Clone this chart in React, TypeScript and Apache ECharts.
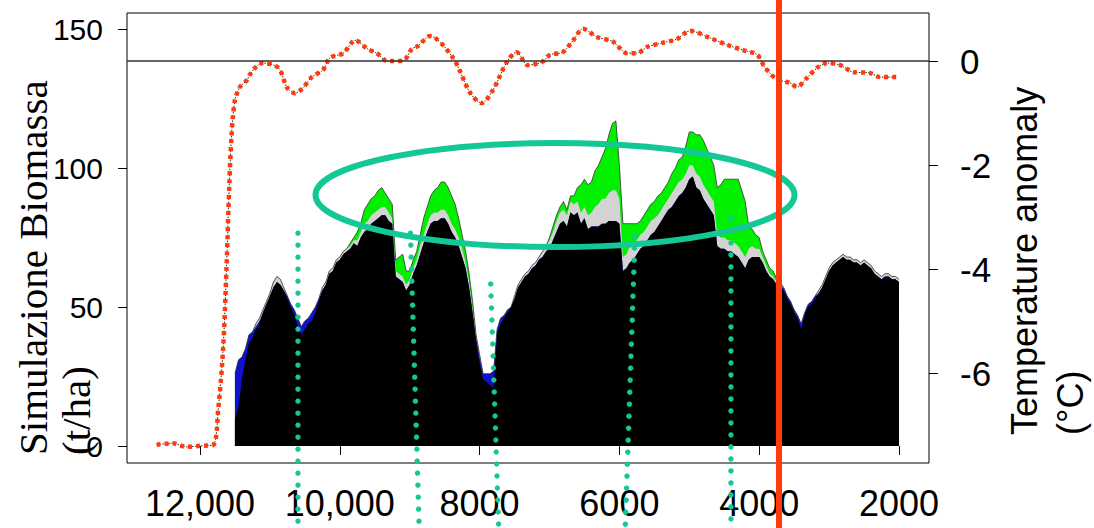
import React, { useEffect, useRef } from "react";
import * as echarts from "echarts";

// ---- Biomass (t/ha), stacked layers, years BP (50-year steps) ----
const years = [
  11500, 11450, 11400, 11350, 11300, 11250, 11200, 11150, 11100, 11050,
  11000, 10950, 10900, 10850, 10800, 10750, 10700, 10650, 10600, 10550,
  10500, 10450, 10400, 10350, 10300, 10250, 10200, 10150, 10100, 10050,
  10000, 9950, 9900, 9850, 9800, 9750, 9700, 9650, 9600, 9550,
  9500, 9450, 9400, 9350, 9300, 9250, 9200, 9150, 9100, 9050,
  9000, 8950, 8900, 8850, 8800, 8750, 8700, 8650, 8600, 8550,
  8500, 8450, 8400, 8350, 8300, 8250, 8200, 8150, 8100, 8050,
  8000, 7950, 7900, 7850, 7800, 7750, 7700, 7650, 7600, 7550,
  7500, 7450, 7400, 7350, 7300, 7250, 7200, 7150, 7100, 7050,
  7000, 6950, 6900, 6850, 6800, 6750, 6700, 6650, 6600, 6550,
  6500, 6450, 6400, 6350, 6300, 6250, 6200, 6150, 6100, 6050,
  6000, 5950, 5900, 5850, 5800, 5750, 5700, 5650, 5600, 5550,
  5500, 5450, 5400, 5350, 5300, 5250, 5200, 5150, 5100, 5050,
  5000, 4950, 4900, 4850, 4800, 4750, 4700, 4650, 4600, 4550,
  4500, 4450, 4400, 4350, 4300, 4250, 4200, 4150, 4100, 4050,
  4000, 3950, 3900, 3850, 3800, 3750, 3700, 3650, 3600, 3550,
  3500, 3450, 3400, 3350, 3300, 3250, 3200, 3150, 3100, 3050,
  3000, 2950, 2900, 2850, 2800, 2750, 2700, 2650, 2600, 2550,
  2500, 2450, 2400, 2350, 2300, 2250, 2200, 2150, 2100, 2050,
  2000,
];
const blackLayer = [
  10, 14, 24, 31, 37, 39, 42, 44, 48, 51,
  54, 57, 59, 58, 56, 53, 50, 47, 43, 40,
  42, 44, 45, 48, 52, 56, 58, 62, 63, 66,
  67, 69, 70, 71, 73, 72, 75, 77, 78, 80,
  81, 82, 83, 83, 81, 80, 61, 60, 59, 56,
  58, 62, 65, 69, 73, 77, 80, 81, 81, 82,
  82, 80, 77, 75, 72, 68, 64, 57, 48, 38,
  30, 24, 23, 22, 21, 40, 44, 46, 48, 50,
  53, 57, 59, 61, 62, 64, 65, 67, 68, 70,
  71, 74, 77, 80, 81, 79, 84, 83, 84, 80,
  82, 78, 79, 79, 79, 80, 80, 81, 81, 81,
  80, 63, 64, 66, 67, 69, 71, 72, 74, 76,
  77, 79, 81, 83, 85, 86, 88, 90, 91, 93,
  96, 97, 93, 92, 89, 87, 85, 83, 72, 71,
  71, 70, 70, 69, 68, 66, 64, 67, 68, 68,
  68, 66, 63, 61, 60, 58, 57, 56, 53, 51,
  48, 46, 42, 47, 50, 51, 53, 55, 57, 60,
  63, 65, 66, 67, 68, 67, 67, 66, 66, 65,
  66, 65, 64, 62, 61, 60, 61, 61, 60, 60,
  59,
];
const blueLayer = [
  16, 17, 8, 4, 3, 2, 1, 1, 0, 0,
  0, 0, 0, 0, 0, 1, 1, 2, 3, 3,
  3, 2, 3, 2, 1, 0, 0, 0, 0, 0,
  0, 0, 0, 0, 0, 0, 0, 0, 0, 0,
  0, 0, 0, 0, 0, 0, 0, 0, 0, 0,
  0, 0, 0, 0, 0, 0, 0, 0, 0, 0,
  0, 0, 0, 0, 0, 0, 0, 0, 0, 1,
  2, 2, 3, 4, 6, 2, 2, 1, 1, 0,
  0, 0, 0, 0, 0, 0, 0, 0, 0, 0,
  0, 0, 0, 0, 0, 0, 0, 0, 0, 0,
  0, 0, 0, 0, 0, 0, 0, 0, 0, 0,
  0, 0, 0, 0, 0, 0, 0, 0, 0, 0,
  0, 0, 0, 0, 0, 0, 0, 0, 0, 0,
  0, 0, 0, 0, 0, 0, 0, 0, 0, 0,
  0, 0, 0, 0, 0, 0, 0, 0, 0, 0,
  0, 0, 0, 0, 0, 0, 0, 1, 1, 1,
  1, 1, 2, 1, 1, 1, 1, 0, 0, 0,
  0, 0, 0, 0, 0, 0, 0, 0, 0, 0,
  0, 0, 0, 0, 0, 0, 0, 0, 0, 0,
  0,
];
const greyLayer = [
  0, 0, 0, 0, 0, 0, 1, 1, 1, 1,
  1, 2, 2, 2, 1, 0, 0, 0, 0, 0,
  0, 0, 0, 0, 0, 1, 1, 1, 1, 1,
  1, 1, 1, 1, 1, 2, 2, 3, 3, 3,
  3, 3, 3, 3, 3, 2, 2, 2, 2, 2,
  2, 2, 2, 3, 3, 3, 3, 3, 3, 3,
  3, 3, 3, 3, 3, 3, 2, 2, 1, 1,
  1, 0, 0, 0, 0, 0, 0, 0, 0, 0,
  1, 1, 1, 1, 1, 1, 1, 1, 2, 2,
  3, 3, 4, 4, 4, 4, 4, 4, 4, 4,
  4, 5, 5, 7, 8, 9, 9, 10, 11, 11,
  9, 5, 5, 6, 6, 5, 5, 5, 5, 5,
  5, 4, 4, 4, 4, 5, 5, 5, 5, 5,
  5, 4, 5, 5, 5, 5, 5, 5, 4, 4,
  4, 4, 4, 4, 4, 4, 4, 4, 4, 3,
  3, 2, 2, 1, 1, 1, 1, 0, 0, 0,
  0, 0, 0, 0, 0, 0, 0, 1, 1, 1,
  1, 1, 1, 1, 1, 1, 1, 1, 1, 1,
  1, 1, 1, 1, 1, 1, 1, 1, 1, 1,
  1,
];
const greenLayer = [
  0, 0, 0, 0, 0, 0, 0, 0, 0, 0,
  0, 0, 0, 0, 0, 0, 0, 0, 0, 0,
  0, 0, 0, 0, 0, 0, 0, 0, 0, 0,
  0, 0, 0, 1, 1, 3, 3, 5, 6, 6,
  6, 7, 7, 5, 5, 5, 4, 6, 8, 5,
  3, 3, 3, 4, 6, 6, 7, 8, 9, 10,
  10, 10, 10, 9, 7, 5, 4, 3, 3, 0,
  0, 0, 0, 0, 0, 0, 0, 0, 0, 0,
  0, 0, 0, 0, 0, 0, 0, 0, 0, 0,
  1, 2, 2, 2, 3, 2, 2, 3, 5, 10,
  10, 11, 11, 13, 14, 15, 18, 21, 24, 25,
  12, 12, 11, 8, 7, 6, 5, 6, 6, 6,
  6, 7, 6, 6, 6, 7, 7, 8, 8, 10,
  12, 12, 14, 15, 16, 15, 14, 13, 17, 19,
  21, 22, 22, 23, 24, 22, 20, 8, 6, 5,
  4, 2, 2, 2, 2, 1, 1, 0, 0, 0,
  0, 0, 0, 0, 0, 0, 0, 0, 0, 0,
  0, 0, 0, 0, 0, 0, 0, 0, 0, 0,
  0, 0, 0, 0, 0, 0, 0, 0, 0, 0,
  0,
];

// ---- Temperature anomaly (°C) ----
const tempYears = [
  12620, 12390, 12190, 12000, 11810, 11740, 11670, 11620, 11580, 11550,
  11530, 11500, 11470, 11430, 11330, 11290, 11190, 11100, 10880, 10750,
  10640, 10530, 10400, 10240, 10140, 9950, 9780, 9600, 9470, 9320,
  9100, 8970, 8880, 8710, 8380, 8140, 7970, 7810, 7610, 7470,
  7310, 7110, 6990, 6810, 6660, 6520, 6320, 6090, 5890, 5750,
  5600, 5380, 5180, 4990, 4700, 4460, 4230, 4030, 3920, 3750,
  3560, 3460, 3320, 3170, 3030, 2840, 2660, 2420, 2270, 2030,
];
const tempValues = [
  -7.38, -7.35, -7.42, -7.4, -7.38, -6.71, -5.56, -3.96, -2.35, -1.46,
  -1.08, -0.75, -0.62, -0.5, -0.37, -0.27, -0.1, -0.04, -0.13, -0.52,
  -0.62, -0.52, -0.31, -0.17, 0.06, 0.15, 0.4, 0.23, 0.15, 0.0,
  0.0, 0.23, 0.29, 0.48, 0.06, -0.6, -0.81, -0.56, -0.02, 0.17,
  -0.08, -0.02, 0.12, 0.17, 0.4, 0.62, 0.46, 0.37, 0.15, 0.15,
  0.27, 0.35, 0.42, 0.58, 0.44, 0.31, 0.21, 0.12, -0.12, -0.35,
  -0.42, -0.5, -0.33, -0.13, -0.04, -0.08, -0.21, -0.23, -0.31, -0.31,
];

// ---- Axes ----
const xTicks = [12000, 10000, 8000, 6000, 4000, 2000];
const xTickLabels = ["12,000", "10,000", "8000", "6000", "4000", "2000"];
const leftTicks = [0, 50, 100, 150];
const rightTicks = [0, -2, -4, -6];

// ---- Annotations (data coordinates) ----
const redLineYear = 3717;
const dottedTopYears = [10598, 8989, 7841, 5777, 4404];
const dottedTopBiomass = [76.6, 76.6, 58.3, 75.5, 81.7];
const dottedBottomYears = [10598, 8899, 7765, 5877, 4404];
const ellipseCenter = [6921, 90.3];
const ellipseHalfWidthYears = 3426;
const ellipseHalfHeightBiomass = 18.7;

const TEAL = "#14c896";
const RED = "#ff3a0c";

export default function App() {
  const ref = useRef<HTMLDivElement>(null);
  useEffect(() => {
    const chart = echarts.init(ref.current!, null, { renderer: "svg" });
    // cumulative tops of the stacked layers (drawn back-to-front)
    const cumBlue = blackLayer.map((v, i) => v + blueLayer[i]);
    const cumGrey = cumBlue.map((v, i) => v + greyLayer[i]);
    const cumGreen = cumGrey.map((v, i) => v + greenLayer[i]);
    const pair = (arr: number[]) => arr.map((v, i) => [years[i], v]);
    const areaSeries = (name: string, arr: number[], color: string, z: number, top = false) => ({
      name,
      type: "line",
      data: pair(arr),
      showSymbol: false,
      symbol: "none",
      z,
      lineStyle: top ? { width: 0.8, color: "#333" } : { width: 0, color },
      areaStyle: { color, opacity: 1 },
      silent: true,
    });
    const option: any = {
      animation: false,
      backgroundColor: "#ffffff",
      textStyle: { fontFamily: "Liberation Sans, Arial, sans-serif" },
      grid: {
        left: 127,
        right: 165,
        top: 13,
        bottom: 65,
        show: true,
        borderColor: "#000",
        borderWidth: 1,
        backgroundColor: "transparent",
      },
      xAxis: {
        type: "value",
        inverse: true,
        min: 1571,
        max: 13044,
        axisLine: { show: false },
        splitLine: { show: false },
        axisTick: { show: true, length: 9, inside: false, customValues: xTicks, lineStyle: { color: "#000" } },
        axisLabel: {
          customValues: xTicks,
          margin: 22,
          fontSize: 36,
          color: "#000",
          fontFamily: "Liberation Sans",
          formatter: (v: number) => {
            const i = xTicks.indexOf(v);
            return i >= 0 ? xTickLabels[i] : "";
          },
        },
      },
      yAxis: [
        {
          type: "value",
          position: "left",
          min: -6.1,
          max: 155.8,
          axisLine: { show: false },
          splitLine: { show: false },
          axisTick: { show: true, length: 9, customValues: leftTicks, lineStyle: { color: "#000" } },
          axisLabel: {
            customValues: leftTicks,
            margin: 24,
            fontSize: 30,
            color: "#000",
            fontFamily: "Liberation Sans",
            padding: [9, 0, 0, 0],
          },
        },
        {
          type: "value",
          position: "right",
          min: -7.73,
          max: 0.923,
          axisLine: { show: false },
          splitLine: { show: false },
          axisTick: { show: true, length: 9, customValues: rightTicks, lineStyle: { color: "#000" } },
          axisLabel: {
            customValues: rightTicks,
            margin: 31,
            fontSize: 35,
            color: "#000",
            fontFamily: "Liberation Sans",
            padding: [12, 0, 0, 0],
          },
        },
      ],
      series: [
        areaSeries("green", cumGreen, "#00f000", 2, true),
        areaSeries("grey", cumGrey, "#d3d3d3", 2),
        areaSeries("blue", cumBlue, "#1010d0", 2),
        areaSeries("black", blackLayer, "#000000", 2),
        {
          name: "temp-under",
          type: "line",
          yAxisIndex: 1,
          data: tempYears.map((y, i) => [y, tempValues[i]]),
          showSymbol: false,
          symbol: "none",
          smooth: 0.3,
          z: 3,
          lineStyle: { color: "#222", width: 1, type: [1.5, 1.5] },
          markLine: {
            silent: true,
            symbol: "none",
            label: { show: false },
            lineStyle: { color: "#333", width: 1.5, type: "solid" },
            data: [{ yAxis: 0 }],
          },
        },
        {
          name: "temp",
          type: "line",
          yAxisIndex: 1,
          data: tempYears.map((y, i) => [y, tempValues[i]]),
          showSymbol: false,
          symbol: "none",
          smooth: 0.3,
          z: 4,
          lineStyle: { color: RED, width: 4.5, type: [4, 4], cap: "butt" },
        },
      ],
    };
    chart.setOption(option);

    const px = (x: number, y: number) =>
      chart.convertToPixel({ xAxisIndex: 0, yAxisIndex: 0 } as any, [x, y]) as number[];
    const H = chart.getHeight();
    const graphics: any[] = [];
    const c = px(ellipseCenter[0], ellipseCenter[1]);
    const e1 = px(ellipseCenter[0] - ellipseHalfWidthYears, ellipseCenter[1] + ellipseHalfHeightBiomass);
    graphics.push({
      type: "ellipse",
      z: 10,
      silent: true,
      shape: { cx: c[0], cy: c[1], rx: Math.abs(e1[0] - c[0]), ry: Math.abs(c[1] - e1[1]) },
      style: { fill: "none", stroke: TEAL, lineWidth: 6 },
    });
    dottedTopYears.forEach((yr, i) => {
      const t = px(yr, dottedTopBiomass[i]);
      const b = px(dottedBottomYears[i], 0);
      const x2 = t[0] + (b[0] - t[0]) * ((H - t[1]) / (b[1] - t[1]));
      const len = H - t[1];
      const n = Math.floor(len / 12);
      for (let k = 0; k <= n; k++) {
        const f = (k * 12) / len;
        graphics.push({
          type: "circle",
          z: 11,
          silent: true,
          shape: { cx: t[0] + (x2 - t[0]) * f, cy: t[1] + len * f, r: 2.7 },
          style: { fill: TEAL },
        });
      }
    });
    const r = px(redLineYear, 0);
    graphics.push({
      type: "line",
      z: 12,
      silent: true,
      shape: { x1: r[0], y1: 0, x2: r[0], y2: H },
      style: { stroke: RED, lineWidth: 6 },
    });
    graphics.push({
      type: "text",
      z: 5,
      x: 11.7,
      y: 455,
      rotation: Math.PI / 2,
      style: {
        text: "Simulazione Biomassa\n(t/ha)",
        font: "41px 'Liberation Serif', 'Times New Roman', serif",
        lineHeight: 43,
        fill: "#000",
        align: "left",
        verticalAlign: "top",
      },
    });
    graphics.push({
      type: "text",
      z: 5,
      x: 1001.5,
      y: 435,
      rotation: Math.PI / 2,
      style: {
        text: "Temperature anomaly\n(°C)",
        font: "36px 'Liberation Sans', Arial, sans-serif",
        lineHeight: 46,
        fill: "#000",
        align: "left",
        verticalAlign: "top",
      },
    });
    chart.setOption({ graphic: graphics });
    return () => chart.dispose();
  }, []);
  return (
    <div
      ref={ref}
      style={{ position: "fixed", left: 0, top: 0, width: 1094, height: 528, background: "#fff" }}
    />
  );
}
